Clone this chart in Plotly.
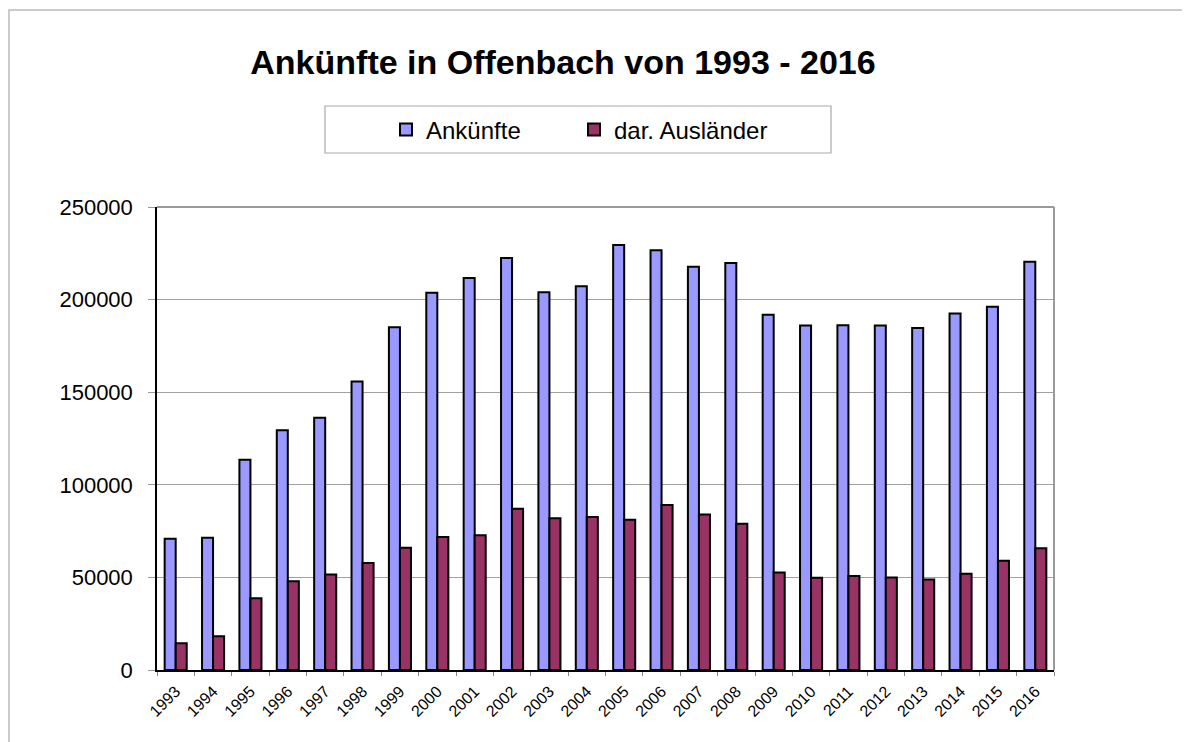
import plotly.graph_objects as go

years = [str(y) for y in range(1993, 2017)]
ankuenfte = [70900, 71400, 113500, 129400, 136200, 155800, 185100, 203700,
             211600, 222400, 204000, 207200, 229500, 226700, 217700, 219800,
             191800, 186000, 186200, 186000, 184600, 192500, 196100, 220400]
auslaender = [14400, 18200, 38700, 47900, 51500, 57800, 66000, 71800,
              72700, 87100, 82000, 82600, 81100, 89100, 84000, 79000,
              52700, 49800, 50700, 50000, 48800, 52000, 59000, 65800]
series_names = ["Ankünfte", "dar. Ausländer"]
colors = ["#9999FF", "#993366"]
y_ticks = [0, 50000, 100000, 150000, 200000, 250000]

OFF = 8  # page body margin offset
W, H = 1190 - OFF, 742 - OFF
L, R, T, B = 157 - OFF, 1054 - OFF, 207 - OFF, 670 - OFF

def px(x):
    return (x - OFF - L) / (R - L)

def py(y):
    return (B - (y - OFF)) / (B - T)

font = "Liberation Sans, Arial, sans-serif"
legend_ids = ["legend", "legend2"]
legend_x = [px(386), px(574)]

fig = go.Figure()
for name, vals, col, lid in zip(series_names, [ankuenfte, auslaender], colors, legend_ids):
    fig.add_trace(go.Bar(
        x=years, y=vals, name=name, legend=lid,
        marker=dict(color=col, line=dict(color="black", width=2)),
    ))

legend_style = dict(orientation="h", xanchor="left", y=py(130), yanchor="middle",
                    font=dict(size=24, family=font, color="black"),
                    bgcolor="rgba(0,0,0,0)", borderwidth=0)

fig.update_layout(
    width=W, height=H,
    margin=dict(l=L, r=W - R, t=T, b=H - B, autoexpand=False),
    paper_bgcolor="white", plot_bgcolor="white",
    barmode="group", bargap=0.41, bargroupgap=0.0,
    font=dict(family=font, color="black"),
    title=dict(text="<b>Ankünfte in Offenbach von 1993 - 2016</b>",
               font=dict(size=34, family=font, color="black"),
               x=(563 - OFF) / W, xanchor="center", xref="container",
               y=1 - (62 - OFF) / H, yanchor="middle", yref="container"),
    showlegend=True,
    legend=dict(x=legend_x[0], **legend_style),
    legend2=dict(x=legend_x[1], **legend_style),
    xaxis=dict(type="category", tickangle=-45, tickfont=dict(size=16),
               showline=True, linecolor="black", linewidth=1.5,
               ticks="outside", tickson="boundaries", ticklen=4,
               tickcolor="#888888", showgrid=False, ticklabelstandoff=4),
    yaxis=dict(range=[0, 250000], tickvals=y_ticks,
               ticktext=[str(v) for v in y_ticks],
               tickfont=dict(size=22),
               showline=True, linecolor="black", linewidth=1.5,
               ticks="outside", ticklen=7, tickcolor="#999999",
               showgrid=True, gridcolor="#A0A0A0", gridwidth=1,
               zeroline=False, ticklabelstandoff=11),
    shapes=[
        # outer chart border
        dict(type="rect", xref="paper", yref="paper",
             x0=px(9), x1=px(1210), y0=py(760), y1=py(10),
             line=dict(color="#BBBBBB", width=1.5), fillcolor="rgba(0,0,0,0)"),
        # legend box
        dict(type="rect", xref="paper", yref="paper",
             x0=px(325), x1=px(831), y0=py(153), y1=py(106),
             line=dict(color="#AAAAAA", width=1.2), fillcolor="rgba(0,0,0,0)"),
        # top and right plot border
        dict(type="line", xref="paper", yref="paper",
             x0=0, x1=1, y0=1, y1=1, line=dict(color="#999999", width=2)),
        dict(type="line", xref="paper", yref="paper",
             x0=1, x1=1, y0=0, y1=1, line=dict(color="#999999", width=2)),
    ],
)

fig.write_html("out.html")
